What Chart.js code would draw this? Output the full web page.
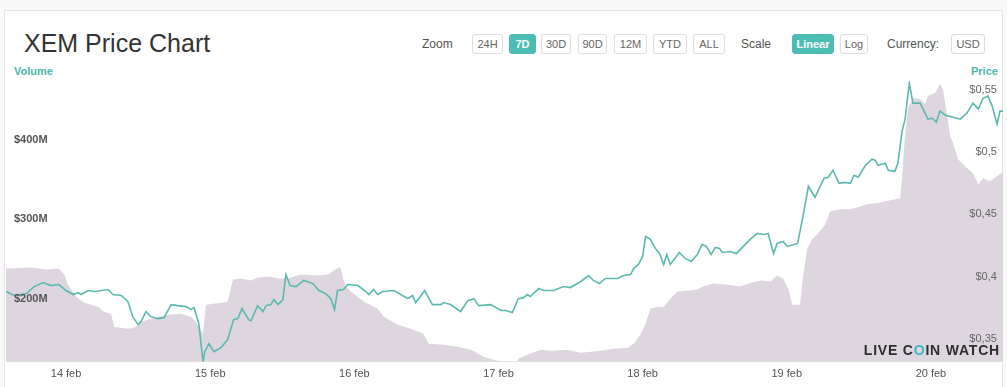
<!DOCTYPE html>
<html><head><meta charset="utf-8">
<script src="https://cdn.jsdelivr.net/npm/chart.js@4/dist/chart.umd.min.js"></script>
<style>
html,body{margin:0;padding:0;background:#f9f9f9;width:1007px;height:387px;overflow:hidden;font-family:"Liberation Sans",Arial,sans-serif;}
#box{position:absolute;left:4px;top:10px;width:999px;height:390px;background:#fff;border:1px solid #e4e4e4;box-sizing:border-box;}
.t{position:absolute;white-space:nowrap;}
#title{left:24px;top:29px;font-size:25px;color:#333;}
.lbl{font-size:12px;color:#555;top:37px;}
.btn{position:absolute;top:34px;height:20px;line-height:19px;box-sizing:border-box;border:1px solid #dedede;border-radius:3px;font-size:11px;color:#666;text-align:center;background:#fff;}
.btn.on{background:#4dbdb3;border-color:#4dbdb3;color:#fff;font-weight:bold;}
.axt{font-size:11px;font-weight:bold;color:#4db8ad;top:65px;}
#wm{right:7px;top:342px;font-size:14px;font-weight:bold;letter-spacing:0.8px;color:#2e2e2e;}
#wm span{color:#3fb6c6;}
#cw{position:absolute;left:-10px;top:60px;width:1013px;height:327px;}
</style></head>
<body>
<div id="box"></div>
<div class="t" id="title">XEM Price Chart</div>
<div class="t lbl" style="left:422px">Zoom</div>
<div class="btn" style="left:472px;width:31px">24H</div>
<div class="btn on" style="left:509px;width:27px">7D</div>
<div class="btn" style="left:541px;width:30px">30D</div>
<div class="btn" style="left:578px;width:29px">90D</div>
<div class="btn" style="left:614px;width:33px">12M</div>
<div class="btn" style="left:653px;width:34px">YTD</div>
<div class="btn" style="left:693px;width:32px">ALL</div>
<div class="t lbl" style="left:741px">Scale</div>
<div class="btn on" style="left:792px;width:42px">Linear</div>
<div class="btn" style="left:840px;width:28px">Log</div>
<div class="t lbl" style="left:887px">Currency:</div>
<div class="btn" style="left:951px;width:34px">USD</div>
<div class="t axt" style="left:14px">Volume</div>
<div class="t axt" style="left:971px">Price</div>
<div id="cw"><canvas id="c"></canvas></div>
<div class="t" id="wm">LIVE C<span>O</span>IN WATCH</div>
<script>
// hours relative to 14 feb 00:00
const dayLabels = ["14 feb","15 feb","16 feb","17 feb","18 feb","19 feb","20 feb"];
const volumeTicks = [200, 300, 400];
const priceTicks = [0.35, 0.40, 0.45, 0.50, 0.55];

const priceHours = [-10,-8.6,-6.6,-5.3,-3.8,-2.5,-1.2,0,1.2,2,2.5,3.7,4.7,7,7.8,9.2,10.3,11.1,12,12.5,13.3,14.1,15.3,16.3,17.5,18.6,20,20.8,21.3,22.1,22.8,23.1,23.8,24.6,25.8,26.9,27.9,28.6,29.3,30.4,30.8,31.9,32.8,33.3,34.1,34.6,35.3,36.1,36.6,37.3,38.3,39.6,41.1,42.1,43.2,44.1,44.7,45.2,46.2,46.9,48.6,49.9,50.4,51.2,51.9,52.7,54.6,55.7,56.9,57.7,58.2,59,59.7,61,62.4,62.9,64,65.7,66.9,67.9,68.7,70.7,72.4,73.2,74.3,75.3,76.2,76.8,77.3,78.7,79.5,81.2,82.8,84,85.7,87,87.8,88.8,89.8,91.8,92.8,94,94.5,95.3,96,96.5,97.3,98.1,98.8,99.5,100,100.6,101.1,102.1,103.1,104.1,105.1,105.9,106.6,107.4,108.1,108.8,109.3,110.6,111.6,112.6,113.9,115.1,116.1,116.9,117.8,118.4,119.4,120.1,121.8,122.7,123.6,124.7,126.2,126.9,127.7,128.7,129.7,130.6,131.2,131.9,133.1,134.2,134.7,135.2,136.4,136.9,138,138.5,139.2,139.7,140.4,141,142.2,142.7,143.5,144.2,144.9,145.5,146.4,147.7,148.9,150,151,151.9,152.7,153.5,154.2,155,155.5,156.2];
const priceValues = [0.388,0.3848,0.3864,0.392,0.3952,0.3928,0.3936,0.3888,0.3856,0.3872,0.3856,0.3888,0.388,0.3896,0.3856,0.3848,0.3799,0.3678,0.3614,0.3638,0.3719,0.3678,0.3662,0.367,0.3775,0.3767,0.3759,0.3735,0.3751,0.3622,0.3316,0.3396,0.3461,0.3396,0.3429,0.3493,0.3654,0.3662,0.3743,0.3654,0.3646,0.3767,0.3719,0.3767,0.3775,0.3815,0.3775,0.3815,0.4017,0.3928,0.392,0.3969,0.3944,0.3888,0.3864,0.3823,0.3735,0.3888,0.3896,0.3936,0.3928,0.388,0.3856,0.3896,0.3856,0.388,0.3888,0.3856,0.3823,0.3848,0.3791,0.384,0.3888,0.3775,0.3775,0.3791,0.3775,0.3719,0.3807,0.3823,0.3767,0.3775,0.3727,0.3727,0.3711,0.3823,0.3831,0.3856,0.384,0.3904,0.3888,0.3888,0.392,0.3912,0.3961,0.4009,0.3969,0.3944,0.3985,0.3985,0.4009,0.4017,0.4065,0.4098,0.4162,0.4323,0.4299,0.4227,0.4186,0.4098,0.4178,0.4098,0.413,0.4194,0.4146,0.4122,0.4178,0.4259,0.4243,0.4178,0.4235,0.4227,0.4194,0.4202,0.4186,0.4235,0.4299,0.4347,0.4339,0.4347,0.4186,0.4267,0.4283,0.4243,0.4267,0.4484,0.4726,0.4638,0.4791,0.4799,0.4855,0.475,0.4758,0.475,0.4815,0.4799,0.4895,0.4944,0.4936,0.4895,0.4912,0.4855,0.4847,0.4912,0.517,0.5266,0.5556,0.5395,0.5395,0.5347,0.5266,0.5274,0.5242,0.5331,0.5298,0.5282,0.5266,0.5315,0.5395,0.5347,0.5436,0.5452,0.5371,0.5226,0.5331,0.5331];

const volumeHours = [-10,-5.8,-3.3,-1.2,-0.3,0.3,1.7,3,5.3,6.3,7.5,8,10.3,11.3,12.5,14.1,17,19.1,20.8,22,22.8,23.3,24.6,26.9,27.8,29.1,30.8,31.9,34.1,35.3,36.9,39.1,41.9,43.6,45.1,45.7,46.4,47.4,49.6,51.9,52.9,55.2,57.4,59.5,60.4,62.9,65.2,67.4,69.5,72.4,75.2,75.3,76.8,79,80.7,83.5,85.7,89,91.1,93.5,94.5,95.6,96.5,97.3,98.5,99.5,100.6,101.8,103.4,105.1,106.1,107.8,110.1,112.3,113.6,115.6,117.3,118.4,119.4,120.3,120.9,122.2,122.7,123.4,124.2,125.2,126.4,127.2,128.9,130.6,131.7,133.4,135.1,137.2,138.9,139.2,139.7,140.2,141,142.2,143,143.5,144.7,145.5,146,146.7,147.2,147.7,148.5,149.7,151,151.9,152.7,153.8,155,156.2];
const volumeValues = [238,239.2,236.7,238,230.4,217.7,202.5,194.9,189.9,183.6,181,164.6,162,163.3,170.9,174.7,179.8,181,177.2,167.1,155.7,192.4,193.7,196.2,224.1,225.3,222.8,226.6,227.8,225.3,225.3,230.4,229.1,230.4,238,239.2,217.7,208.9,196.2,187.3,177.2,167.1,162,155.7,143,141.8,139.2,135.5,126.6,120.3,120.3,124.1,129.1,135.5,134.2,135.5,131.6,134.2,136.7,138,143,154.4,168.4,187.3,189.9,189.9,200,208.9,210.1,211.4,215.2,219,217.7,215.2,219,222.8,221.5,229.1,225.3,211.4,192.4,192.4,227.8,263.3,274.7,282.3,293.7,310.1,312.7,312.7,315.2,319,320.3,324.1,326.6,354.4,407.6,440.5,453.2,451.9,445.6,455.7,459.5,470.9,464.6,430.4,405.1,396.2,375.9,367.1,358.2,344.3,351.9,348.1,354.4,360.8];

const pricePts = priceHours.map((h,i)=>({x:h,y:priceValues[i]}));
const volPts = volumeHours.map((h,i)=>({x:h,y:volumeValues[i]}));

function fmtPrice(v){return "$" + String(parseFloat(v.toFixed(2))).replace(".", ",") + "\u00a0\u00a0";}

new Chart(document.getElementById("c"), {
  type: "line",
  data: { datasets: [
    { label:"Price", data: pricePts, yAxisID:"yP", borderColor:"#5cb9ae", borderWidth:1.6, pointRadius:0, tension:0, fill:false, order:1 },
    { label:"Volume", data: volPts, yAxisID:"yV", borderWidth:0, borderColor:"rgba(0,0,0,0)", backgroundColor:"#ddd6df", pointRadius:0, tension:0, fill:"start", order:2 }
  ]},
  options: {
    responsive:true, maintainAspectRatio:false, animation:false,
    layout:{padding:{top:21,bottom:0,left:0,right:0}},
    plugins:{legend:{display:false}, tooltip:{enabled:false}},
    scales:{
      x:{ type:"linear", min:-10, max:156,
        afterBuildTicks:(ax)=>{ax.ticks = dayLabels.map((_,i)=>({value:i*24}));},
        ticks:{ padding:6, autoSkip:false, maxRotation:0, color:"#555", font:{size:11, family:"Liberation Sans"},
          callback:(v)=>dayLabels[Math.round(v/24)] },
        grid:{display:false, drawTicks:false},
        border:{display:true, color:"#e6e6e6"} },
      yV:{ position:"left", min:120.3, max:474.7,
        afterBuildTicks:(ax)=>{ax.ticks = volumeTicks.map(v=>({value:v}));},
        ticks:{ z:1, mirror:true, padding:8, color:"#555", font:{size:11, weight:"bold", family:"Liberation Sans"},
          callback:(v)=>"$"+v+"M" },
        grid:{display:false, drawTicks:false}, border:{display:false} },
      yP:{ position:"right", min:0.3315, max:0.5573,
        afterBuildTicks:(ax)=>{ax.ticks = priceTicks.map(v=>({value:v}));},
        ticks:{ z:1, mirror:true, padding:0, color:"#666", font:{size:11, family:"Liberation Sans"},
          callback:(v)=>fmtPrice(v) },
        grid:{display:false, drawTicks:false}, border:{display:false} }
    }
  }
});
</script>
</body></html>
